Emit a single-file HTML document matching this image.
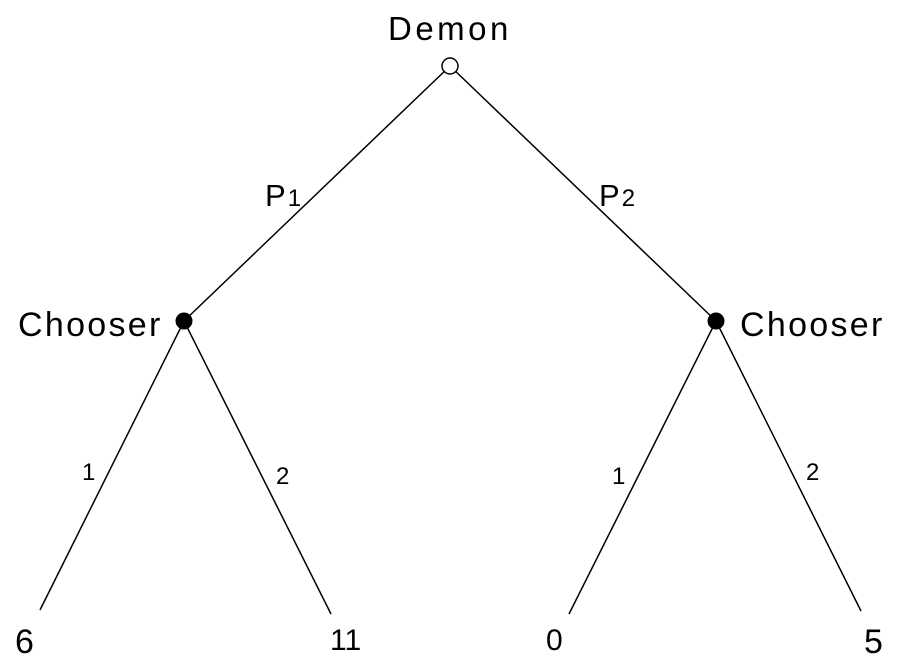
<!DOCTYPE html>
<html><head><meta charset="utf-8"><style>
html,body{margin:0;padding:0;background:#fff;}
svg{display:block;}
text{font-family:"Liberation Sans",sans-serif;fill:#000;}
</style></head><body>
<svg width="898" height="668" viewBox="0 0 898 668">
<g stroke="#000" stroke-width="1.5" fill="none">
<line x1="450" y1="66" x2="184" y2="321"/>
<line x1="450" y1="66" x2="716" y2="321"/>
<line x1="184" y1="321" x2="40" y2="610"/>
<line x1="184" y1="321" x2="331" y2="614"/>
<line x1="716" y1="321" x2="569" y2="614"/>
<line x1="716" y1="321" x2="861" y2="611"/>
</g>
<circle cx="450" cy="66" r="8" fill="#fff" stroke="#000" stroke-width="1.5"/>
<circle cx="184" cy="321" r="8.5" fill="#000"/>
<circle cx="716" cy="321" r="8.5" fill="#000"/>
<text x="388" y="40" font-size="33" letter-spacing="3.5">Demon</text>
<text x="265" y="206" font-size="31" letter-spacing="2">P<tspan font-size="24">1</tspan></text>
<text x="599" y="206" font-size="31" letter-spacing="2">P<tspan font-size="24">2</tspan></text>
<text x="18" y="336" font-size="34" letter-spacing="2.3">Chooser</text>
<text x="740" y="336" font-size="34" letter-spacing="2.3">Chooser</text>
<text x="82" y="480" font-size="24">1</text>
<text x="276" y="484" font-size="24">2</text>
<text x="612" y="484" font-size="24">1</text>
<text x="806" y="480" font-size="24">2</text>
<text x="15" y="653" font-size="34">6</text>
<text x="330" y="650" font-size="30">11</text>
<text x="546" y="650" font-size="30">0</text>
<text x="864" y="653" font-size="34">5</text>
</svg>
</body></html>
